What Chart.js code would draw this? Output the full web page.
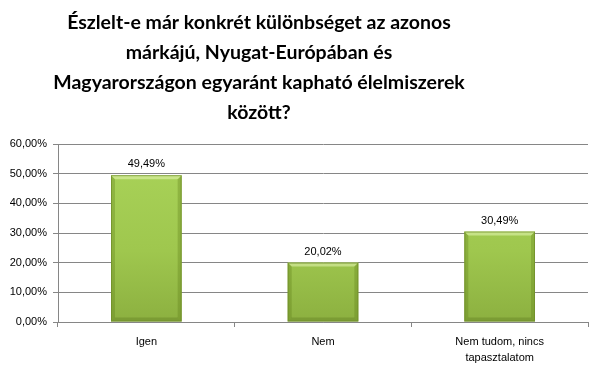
<!DOCTYPE html>
<html>
<head>
<meta charset="utf-8">
<script src="https://cdn.jsdelivr.net/npm/chart.js@4/dist/chart.umd.min.js"></script>
<style>
html,body{margin:0;padding:0;background:#fff;}
#wrap{position:relative;width:604px;height:372px;}
canvas{display:block;}
</style>
</head>
<body>
<div id="wrap"><canvas id="c" width="604" height="372"></canvas></div>
<script>
const titleLines = [
  "Észlelt-e már konkrét különbséget az azonos",
  "márkájú, Nyugat-Európában és",
  "Magyarországon egyaránt kapható élelmiszerek",
  "között?"
];
const categories = ["Igen", "Nem", ["Nem tudom, nincs", "tapasztalatom"]];
const values = [49.49, 20.02, 30.49];
const yTicks = [0, 10, 20, 30, 40, 50, 60];

function fmt(v) {
  return v.toFixed(2).replace('.', ',') + '%';
}

const FONT = "'Liberation Sans', Arial, sans-serif";

const titlePlugin = {
  id: 'customTitle',
  afterDraw(chart) {
    const ctx = chart.ctx;
    ctx.save();
    ctx.font = "bold 19.5px Lato, 'Liberation Sans', sans-serif";
    ctx.fillStyle = '#000';
    ctx.textAlign = 'center';
    ctx.textBaseline = 'alphabetic';
    titleLines.forEach((t, i) => ctx.fillText(t, 259, 29 + i * 30));
    ctx.restore();
  }
};

const barStyle = {
  id: 'barStyle',
  afterDatasetsDraw(chart) {
    const ctx = chart.ctx;
    const meta = chart.getDatasetMeta(0);
    ctx.save();
    meta.data.forEach((bar, i) => {
      const w = bar.width;
      const x0 = bar.x - w / 2, x1 = bar.x + w / 2;
      const y0 = bar.y, y1 = bar.base;
      const b = 4;
      ctx.fillStyle = 'rgba(90,120,20,0.3)';
      ctx.beginPath();
      ctx.moveTo(x0, y0); ctx.lineTo(x0 + b, y0 + b); ctx.lineTo(x0 + b, y1 - b); ctx.lineTo(x0, y1); ctx.closePath(); ctx.fill();
      ctx.beginPath();
      ctx.moveTo(x1, y0); ctx.lineTo(x1 - b, y0 + b); ctx.lineTo(x1 - b, y1 - b); ctx.lineTo(x1, y1); ctx.closePath(); ctx.fill();
      ctx.fillStyle = 'rgba(230,245,180,0.55)';
      ctx.beginPath();
      ctx.moveTo(x0, y0); ctx.lineTo(x1, y0); ctx.lineTo(x1 - b, y0 + b); ctx.lineTo(x0 + b, y0 + b); ctx.closePath(); ctx.fill();
      ctx.fillStyle = 'rgba(70,95,15,0.25)';
      ctx.beginPath();
      ctx.moveTo(x0, y1); ctx.lineTo(x1, y1); ctx.lineTo(x1 - b, y1 - b); ctx.lineTo(x0 + b, y1 - b); ctx.closePath(); ctx.fill();
      ctx.strokeStyle = 'rgba(110,140,40,0.7)';
      ctx.lineWidth = 1;
      ctx.strokeRect(x0 + 0.5, y0 + 0.5, w - 1, y1 - y0 - 1);
      ctx.font = "11px " + FONT;
      ctx.fillStyle = '#000';
      ctx.textAlign = 'center';
      ctx.textBaseline = 'alphabetic';
      ctx.fillText(fmt(values[i]), bar.x, y0 - 8);
    });
    ctx.restore();
  }
};

function barFill(context) {
  const chart = context.chart;
  const area = chart.chartArea;
  if (!area) return '#a5cc52';
  const g = chart.ctx.createLinearGradient(0, area.top, 0, area.bottom);
  g.addColorStop(0, '#aad45a');
  g.addColorStop(0.6, '#9fc74e');
  g.addColorStop(1, '#8cb040');
  return g;
}

new Chart(document.getElementById('c'), {
  type: 'bar',
  data: {
    labels: categories,
    datasets: [{
      data: values,
      backgroundColor: barFill,
      borderWidth: 0,
      barPercentage: 0.4,
      categoryPercentage: 1.0
    }]
  },
  options: {
    responsive: false,
    animation: false,
    layout: { padding: { top: 144, right: 16, left: 0, bottom: 0 } },
    plugins: { legend: { display: false }, tooltip: { enabled: false }, title: { display: false } },
    scales: {
      x: {
        grid: { display: true, drawOnChartArea: false, drawTicks: true, tickLength: 5, color: '#868686', offset: true },
        border: { display: true, color: '#868686' },
        ticks: { font: { family: FONT, size: 11, lineHeight: 1.45 }, color: '#000', padding: 7, maxRotation: 0, autoSkip: false },
        afterFit(s) { s.height = 50; }
      },
      y: {
        min: 0, max: 60,
        afterBuildTicks(s) { s.ticks = yTicks.map(v => ({ value: v })); },
        grid: { color: '#868686', tickLength: 5, drawTicks: true },
        border: { display: true, color: '#868686' },
        ticks: { font: { family: FONT, size: 11 }, color: '#000', padding: 6, callback: v => fmt(v) },
        afterFit(s) { s.width = 58; }
      }
    }
  },
  plugins: [titlePlugin, barStyle]
});
</script>
</body>
</html>
